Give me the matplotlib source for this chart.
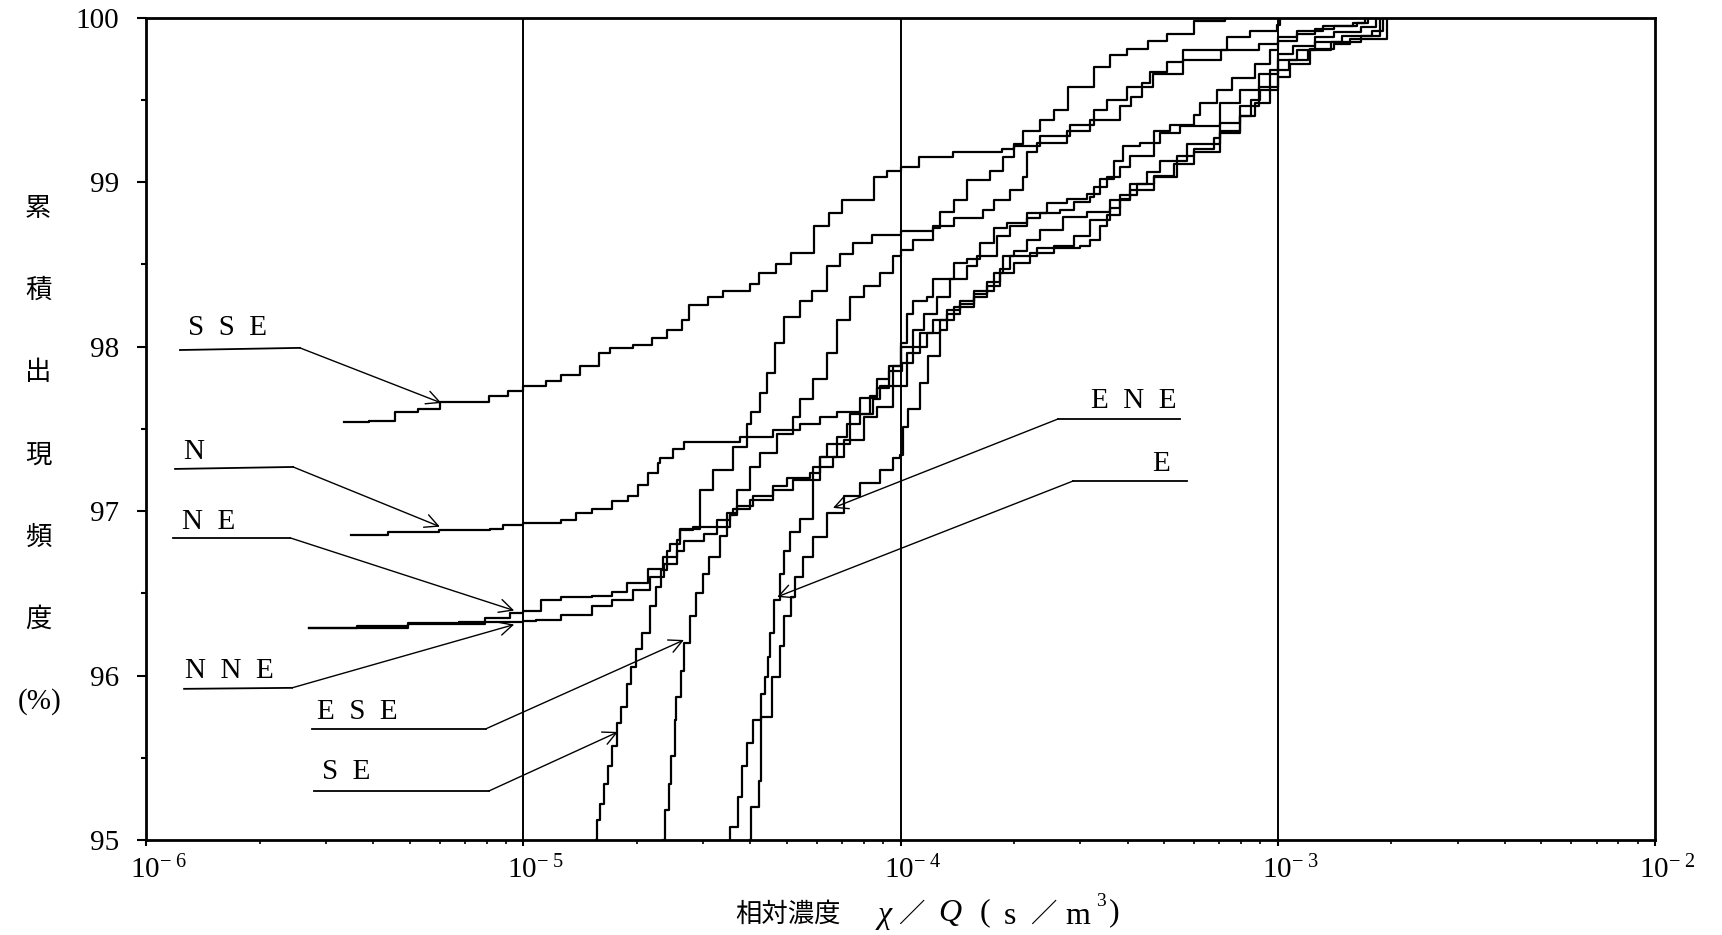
import numpy as np
import matplotlib
matplotlib.use("Agg")
import matplotlib.pyplot as plt

plt.rcParams['font.family'] = ['Liberation Serif', 'Noto Sans CJK JP']
plt.rcParams['mathtext.fontset'] = 'custom'
plt.rcParams['mathtext.rm'] = 'Liberation Serif'
plt.rcParams['mathtext.it'] = 'Liberation Serif:italic'

# cumulative frequency curves, x given as log10(chi/Q), y in %
sse_logx = [-5.476, -5.41, -5.34, -5.28, -5.22, -5.13, -5.09, -5.04, -5.00, -4.94, -4.90, -4.85,
            -4.80, -4.77, -4.71, -4.66, -4.62, -4.58, -4.56, -4.51, -4.47, -4.40, -4.375, -4.33,
            -4.29, -4.23, -4.19, -4.156, -4.07, -4.036, -4.00, -3.95, -3.86, -3.73, -3.70, -3.674,
            -3.63, -3.594, -3.557, -3.486, -3.445, -3.40, -3.344, -3.293, -3.222, -3.141]
sse_pct = [97.54, 97.55, 97.60, 97.62, 97.66, 97.66, 97.70, 97.73, 97.76, 97.79, 97.83, 97.88,
           97.96, 97.99, 98.01, 98.05, 98.10, 98.16, 98.25, 98.30, 98.34, 98.38, 98.45, 98.50,
           98.57, 98.73, 98.81, 98.89, 99.03, 99.07, 99.09, 99.15, 99.18, 99.20, 99.23, 99.31,
           99.38, 99.44, 99.58, 99.70, 99.77, 99.81, 99.86, 99.90, 99.98, 100.0]

n_logx = [-5.457, -5.359, -5.224, -5.089, -5.055, -5.0, -4.899, -4.859, -4.818, -4.764, -4.723,
          -4.696, -4.669, -4.643, -4.637, -4.602, -4.575, -4.425, -4.337, -4.266, -4.213, -4.169,
          -4.107, -4.063, -4.03, -4.0, -3.983, -3.966, -3.930, -3.913, -3.859, -3.824, -3.789,
          -3.753, -3.718, -3.665, -3.612, -3.559, -3.506, -3.471, -3.435, -3.409, -3.365, -3.329,
          -3.285, -3.223, -3.206, -3.16, -3.12, -3.06, -3.02, -3.0, -2.95, -2.90, -2.85, -2.79,
          -2.76, -2.76]
n_pct = [96.855, 96.87, 96.885, 96.89, 96.915, 96.925, 96.946, 96.99, 97.01, 97.06, 97.09,
         97.16, 97.23, 97.29, 97.32, 97.38, 97.42, 97.45, 97.49, 97.53, 97.57, 97.60,
         97.69, 97.75, 97.88, 98.02, 98.20, 98.28, 98.30, 98.41, 98.51, 98.53, 98.63,
         98.72, 98.75, 98.81, 98.87, 98.90, 98.93, 99.02, 99.13, 99.22, 99.24, 99.31,
         99.35, 99.41, 99.48, 99.56, 99.63, 99.72, 99.80, 99.86, 99.90, 99.93, 99.95, 99.97,
         99.97, 100.0]

ne_logx = [-5.569, -5.305, -5.102, -5.034, -5.0, -4.954, -4.899, -4.818, -4.764, -4.726, -4.669,
           -4.629, -4.593, -4.584, -4.549, -4.487, -4.452, -4.443, -4.399, -4.337, -4.301, -4.240,
           -4.213, -4.169, -4.142, -4.107, -4.072, -4.054, -4.02, -4.0, -3.966, -3.939, -3.904,
           -3.868, -3.824, -3.798, -3.745, -3.709, -3.665, -3.630, -3.577, -3.541, -3.497, -3.488,
           -3.453, -3.418, -3.391, -3.329, -3.312, -3.259, -3.153, -3.10, -3.05, -3.0, -2.96,
           -2.90, -2.85, -2.78, -2.74, -2.74]
ne_pct = [96.288, 96.314, 96.35, 96.38, 96.39, 96.46, 96.48, 96.485, 96.51, 96.56, 96.65,
          96.72, 96.825, 96.886, 96.906, 96.946, 96.976, 97.01, 97.07, 97.15, 97.20, 97.23,
          97.33, 97.45, 97.53, 97.59, 97.68, 97.76, 97.88, 98.0, 98.10, 98.20, 98.30,
          98.41, 98.49, 98.55, 98.67, 98.73, 98.78, 98.81, 98.83, 98.88, 98.91, 98.97,
          99.03, 99.09, 99.16, 99.24, 99.30, 99.34, 99.48, 99.56, 99.66, 99.78, 99.83,
          99.88, 99.91, 99.94, 99.96, 100.0]

nne_logx = [-5.569, -5.440, -5.305, -5.170, -5.0, -4.967, -4.899, -4.818, -4.764, -4.710, -4.664,
            -4.628, -4.593, -4.575, -4.520, -4.487, -4.452, -4.434, -4.390, -4.337, -4.284, -4.231,
            -4.178, -4.151, -4.098, -4.063, -4.019, -3.983, -3.948, -3.913, -3.877, -3.842, -3.806,
            -3.753, -3.727, -3.700, -3.665, -3.630, -3.568, -3.506, -3.444, -3.418, -3.391, -3.347,
            -3.312, -3.241, -3.153, -3.10, -3.05, -3.02, -3.0, -2.95, -2.90, -2.83, -2.75, -2.72,
            -2.72]
nne_pct = [96.288, 96.304, 96.318, 96.324, 96.332, 96.338, 96.369, 96.42, 96.46, 96.52, 96.60,
           96.68, 96.76, 96.82, 96.86, 96.90, 96.976, 97.03, 97.09, 97.13, 97.19, 97.27,
           97.33, 97.43, 97.57, 97.63, 97.76, 97.96, 98.08, 98.16, 98.22, 98.28, 98.34,
           98.45, 98.55, 98.58, 98.65, 98.71, 98.79, 98.82, 98.84, 98.90, 98.99, 99.06,
           99.13, 99.23, 99.36, 99.46, 99.58, 99.68, 99.74, 99.80, 99.85, 99.89, 99.92, 99.93,
           100.0]

e_logx = [-4.453, -4.451, -4.431, -4.421, -4.406, -4.391, -4.370, -4.360, -4.350, -4.345, -4.335,
          -4.320, -4.310, -4.293, -4.266, -4.231, -4.213, -4.195, -4.134, -4.081, -4.063, -4.030,
          -3.996, -3.966, -3.930, -3.895, -3.859, -3.806, -3.771, -3.736, -3.700, -3.656, -3.594,
          -3.541, -3.497, -3.444, -3.391, -3.329, -3.276, -3.223, -3.153, -3.10, -3.06, -3.02,
          -3.0, -2.97, -2.92, -2.86, -2.78, -2.73, -2.73]
e_pct = [95.00, 95.08, 95.26, 95.45, 95.59, 95.73, 95.89, 95.99, 96.11, 96.26, 96.46,
         96.62, 96.76, 96.87, 96.95, 97.19, 97.33, 97.41, 97.59, 97.70, 97.80, 97.85,
         97.90, 98.00, 98.08, 98.16, 98.24, 98.30, 98.37, 98.45, 98.51, 98.57, 98.61,
         98.67, 98.77, 98.89, 98.95, 99.04, 99.11, 99.18, 99.30, 99.40, 99.48, 99.58,
         99.68, 99.74, 99.80, 99.85, 99.89, 99.90, 100.0]

ene_logx = [-4.399, -4.396, -4.375, -4.370, -4.340, -4.320, -4.310, -4.290, -4.280, -4.259, -4.231,
            -4.195, -4.151, -4.107, -4.054, -4.019, -4.001, -3.994, -3.979, -3.948, -3.926, -3.895,
            -3.877, -3.842, -3.806, -3.771, -3.736, -3.709, -3.639, -3.524, -3.497, -3.471, -3.453,
            -3.418, -3.373, -3.329, -3.267, -3.223, -3.170, -3.153, -3.10, -3.07, -3.046, -3.0,
            -2.967, -2.914, -2.852, -2.808, -2.711, -2.711]
ene_pct = [95.0, 95.20, 95.36, 95.75, 95.99, 96.18, 96.36, 96.48, 96.60, 96.72, 96.84,
           96.99, 97.09, 97.17, 97.25, 97.32, 97.34, 97.51, 97.62, 97.78, 97.94, 98.10,
           98.20, 98.26, 98.32, 98.39, 98.47, 98.55, 98.60, 98.61, 98.65, 98.73, 98.80,
           98.92, 98.99, 99.03, 99.16, 99.20, 99.27, 99.31, 99.40, 99.50, 99.56, 99.64,
           99.72, 99.81, 99.84, 99.87, 99.87, 100.0]

se_logx = [-4.807, -4.805, -4.797, -4.786, -4.776, -4.766, -4.751, -4.741, -4.725, -4.715, -4.700,
           -4.685, -4.665, -4.649, -4.634, -4.620, -4.611, -4.584, -4.531, -4.496, -4.443, -4.408,
           -4.395, -4.372, -4.354, -4.332, -4.310, -4.266, -4.235, -4.195, -4.160, -4.125, -4.076,
           -4.0, -3.913, -3.859, -3.780, -3.753, -3.709, -3.674, -3.665, -3.639, -3.559, -3.497,
           -3.418, -3.39, -3.36, -3.338, -3.294, -3.250, -3.135, -3.073, -3.003, -2.994]
se_pct = [95.0, 95.12, 95.22, 95.34, 95.45, 95.57, 95.71, 95.81, 95.95, 96.05, 96.16,
          96.26, 96.42, 96.54, 96.64, 96.76, 96.80, 96.89, 97.13, 97.25, 97.39, 97.53,
          97.60, 97.72, 97.84, 98.02, 98.18, 98.28, 98.34, 98.49, 98.56, 98.63, 98.68,
          98.70, 98.73, 98.78, 98.83, 98.89, 98.95, 99.03, 99.18, 99.24, 99.31, 99.38,
          99.46, 99.52, 99.60, 99.67, 99.73, 99.80, 99.88, 99.92, 99.955, 100.0]

ese_logx = [-4.629, -4.624, -4.614, -4.609, -4.599, -4.594, -4.583, -4.573, -4.558, -4.543, -4.523,
            -4.508, -4.478, -4.461, -4.434, -4.399, -4.372, -4.328, -4.284, -4.266, -4.231, -4.195,
            -4.169, -4.133, -4.098, -4.054, -4.019, -4.0, -3.966, -3.913, -3.895, -3.859, -3.824,
            -3.762, -3.727, -3.700, -3.630, -3.550, -3.488, -3.453, -3.40, -3.33, -3.25, -3.15,
            -3.05, -3.0, -2.95, -2.88, -2.80, -2.77, -2.77]
ese_pct = [95.0, 95.18, 95.34, 95.51, 95.73, 95.87, 96.03, 96.20, 96.36, 96.50, 96.62,
           96.72, 96.85, 96.99, 97.13, 97.27, 97.35, 97.47, 97.57, 97.68, 97.80, 97.96,
           98.16, 98.30, 98.37, 98.45, 98.55, 98.59, 98.65, 98.72, 98.82, 98.89, 99.01,
           99.07, 99.15, 99.22, 99.28, 99.35, 99.44, 99.50, 99.58, 99.66, 99.74, 99.80,
           99.84, 99.88, 99.92, 99.95, 99.97, 99.97, 100.0]

curves = [(sse_logx, sse_pct), (n_logx, n_pct), (ne_logx, ne_pct), (nne_logx, nne_pct),
          (e_logx, e_pct), (ene_logx, ene_pct), (se_logx, se_pct), (ese_logx, ese_pct)]

y_ticks = [95, 96, 97, 98, 99, 100]
x_decades = [-6, -5, -4, -3, -2]

W, H = 1722, 935
fig = plt.figure(figsize=(W / 100, H / 100), dpi=100)
ax = fig.add_axes([146 / W, 1 - 840 / H, (1655 - 146) / W, (840 - 17.6) / H])

for lx, p in curves:
    ax.step(np.power(10.0, lx), p, where='post', color='black', lw=1.6)

for d in x_decades[1:-1]:
    ax.axvline(10.0 ** d, color='black', lw=1.4)

ax.set_xscale('log')
ax.set_xlim(1e-6, 1e-2)
ax.set_ylim(95, 100)
for s in ax.spines.values():
    s.set_linewidth(2.0)

ax.set_yticks(y_ticks)
ax.set_yticklabels([str(v) for v in y_ticks], fontsize=21)
ax.set_yticks([v + 0.5 for v in y_ticks[:-1]], minor=True)
ax.tick_params(axis='y', which='major', direction='out', length=6.5, width=1.5, pad=13)
ax.tick_params(axis='y', which='minor', direction='out', length=3.6, width=1.5)
ax.tick_params(axis='x', which='major', direction='out', length=4, width=1.5, labelbottom=False)
ax.tick_params(axis='x', which='minor', direction='out', length=3, width=1.2, labelbottom=False)

for d in x_decades:
    ax.annotate(r'$10^{-\ %d}$' % (-d), xy=(10.0 ** d, 0), xycoords=('data', 'axes fraction'),
                xytext=(-16, -38), textcoords='offset pixels', ha='left', va='baseline',
                fontsize=21)

# direction labels with leader lines: text pos, underline, elbow, arrow tip (log10 x, %)
labels = [
    ('SSE', (-5.783, 98.113), (-5.910, 97.979), (-5.592, 97.992), (-5.217, 97.657)),
    ('N', (-5.873, 97.356), (-5.923, 97.256), (-5.610, 97.268), (-5.221, 96.905)),
    ('NE', (-5.833, 96.934), (-5.928, 96.837), (-5.618, 96.837), (-5.024, 96.395)),
    ('NNE', (-5.780, 96.027), (-5.899, 95.919), (-5.613, 95.925), (-5.024, 96.310)),
    ('ESE', (-5.441, 95.779), (-5.560, 95.676), (-5.099, 95.676), (-4.574, 96.216)),
    ('SE', (-5.470, 95.414), (-5.555, 95.298), (-5.091, 95.298), (-4.749, 95.657)),
    ('ENE', (-3.381, 97.669), (-3.259, 97.560), (-3.582, 97.560), (-4.179, 97.019)),
    ('E', (-3.309, 97.286), (-3.240, 97.183), (-3.542, 97.183), (-4.327, 96.478)),
]
for name, tpos, u0, u1, tip in labels:
    ax.text(10.0 ** tpos[0], tpos[1], '  '.join(name), ha='center', va='center', fontsize=21)
    ax.plot([10.0 ** u0[0], 10.0 ** u1[0]], [u0[1], u1[1]], color='black', lw=1.3)
    ax.annotate('', xy=(10.0 ** tip[0], tip[1]), xytext=(10.0 ** u1[0], u1[1]),
                arrowprops=dict(arrowstyle='->', color='black', lw=1.0, mutation_scale=24,
                                shrinkA=0, shrinkB=0))

# vertical y label
ylab_chars = ['累', '積', '出', '現', '頻', '度']
ylab_rows = [208, 290, 372, 455, 537, 619]
for ch, yp in zip(ylab_chars, ylab_rows):
    fig.text(38 / W, 1 - yp / H, ch, ha='center', va='center', fontsize=19,
             family=['Noto Sans CJK JP'])
fig.text(40 / W, 1 - 702 / H, '(%)', ha='center', va='center', fontsize=21)

# x label pieces
cjk = ['Noto Sans CJK JP']
fig.text(788 / W, 1 - 914 / H, '相対濃度', ha='center', va='center', fontsize=19, family=cjk)
fig.text(885 / W, 1 - 916 / H, 'χ', ha='center', va='center', fontsize=23, style='italic')
fig.text(911 / W, 1 - 914 / H, '／', ha='center', va='center', fontsize=19, family=cjk)
fig.text(950 / W, 1 - 913 / H, 'Q', ha='center', va='center', fontsize=23, style='italic')
fig.text(985 / W, 1 - 913 / H, '(', ha='center', va='center', fontsize=23)
fig.text(1010 / W, 1 - 916 / H, 's', ha='center', va='center', fontsize=23)
fig.text(1043 / W, 1 - 914 / H, '／', ha='center', va='center', fontsize=19, family=cjk)
fig.text(1078 / W, 1 - 916 / H, 'm', ha='center', va='center', fontsize=23)
fig.text(1101 / W, 1 - 902 / H, '3', ha='center', va='center', fontsize=14)
fig.text(1114 / W, 1 - 913 / H, ')', ha='center', va='center', fontsize=23)

fig.savefig('out.png', dpi=100)
